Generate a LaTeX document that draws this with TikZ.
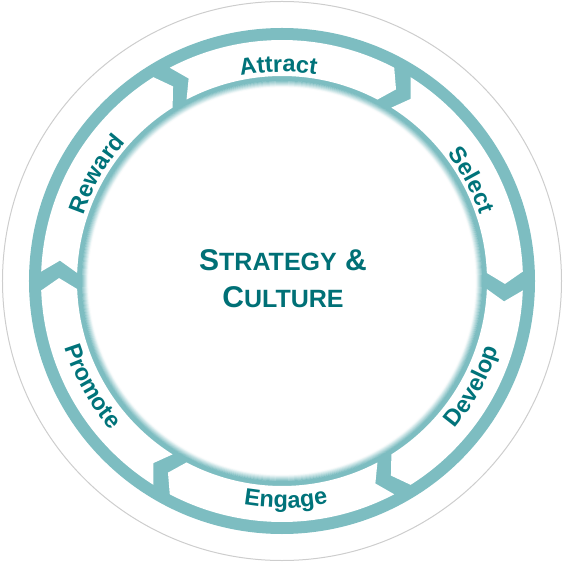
\documentclass[tikz,border=0pt]{standalone}
\usepackage{fontspec}
\setmainfont{Liberation Sans}
\usepackage{tikz}
\usetikzlibrary{decorations.text}
\definecolor{ringteal}{RGB}{125,189,193}
\definecolor{labelteal}{RGB}{0,115,122}
\definecolor{coreteal}{RGB}{0,112,118}
\definecolor{rimgray}{RGB}{205,205,205}
\newcommand{\capword}[2]{{\fontsize{30}{36}\selectfont #1}{\fontsize{25}{30}\selectfont #2}}

\begin{document}
\begin{tikzpicture}[x=1pt, y=1pt,
  ribbon/.style={fill=white},
  ringlabel/.style={decorate, decoration={text along path, text align=center, text color=labelteal,
    text={|\bfseries\fontsize{23.5}{24}\selectfont|#1}}},
  core/.style={text=coreteal, font=\bfseries, anchor=base, inner sep=0pt}]

  \useasboundingbox (-282,-283) rectangle (282,281);

  % Rim and ring

  \draw[rimgray, line width=1pt] (0,0) circle[radius=279.5];
  \fill[ringteal] (0,0) circle[radius=253];

  % Segment 1: Attract

  \fill[ribbon] (117.75:241) arc[start angle=117.75, end angle=62.25, radius=241]
    -- (59.25:223) -- (62.25:205) arc[start angle=62.25, end angle=117.75, radius=205]
    -- (114.75:223) -- cycle;

  % Segment 2: Select

  \fill[ribbon] (57.75:241) arc[start angle=57.75, end angle=2.25, radius=241]
    -- (-0.75:223) -- (2.25:205) arc[start angle=2.25, end angle=57.75, radius=205]
    -- (54.75:223) -- cycle;

  % Segment 3: Develop

  \fill[ribbon] (-2.25:241) arc[start angle=-2.25, end angle=-57.75, radius=241]
    -- (-60.75:223) -- (-57.75:205) arc[start angle=-57.75, end angle=-2.25, radius=205]
    -- (-5.25:223) -- cycle;

  % Segment 4: Engage

  \fill[ribbon] (-62.25:241) arc[start angle=-62.25, end angle=-117.75, radius=241]
    -- (-120.75:223) -- (-117.75:205) arc[start angle=-117.75, end angle=-62.25, radius=205]
    -- (-65.25:223) -- cycle;

  % Segment 5: Promote

  \fill[ribbon] (-122.25:241) arc[start angle=-122.25, end angle=-177.75, radius=241]
    -- (-180.75:223) -- (-177.75:205) arc[start angle=-177.75, end angle=-122.25, radius=205]
    -- (-125.25:223) -- cycle;

  % Segment 6: Reward

  \fill[ribbon] (177.75:241) arc[start angle=177.75, end angle=122.25, radius=241]
    -- (119.25:223) -- (122.25:205) arc[start angle=122.25, end angle=177.75, radius=205]
    -- (174.75:223) -- cycle;

  % Inner disc with soft edge

  \fill[white] (0,0) circle[radius=200];
  \foreach \k [evaluate=\k as \pct using 100-8*\k] in {0,...,12}
    \draw[ringteal!\pct!white, line width=0.7pt] (0,0) circle[radius=200-0.5*\k];

  % Labels on the ring

  \path[ringlabel=Attract] (131:209) arc[start angle=131, end angle=51, radius=209];
  \path[ringlabel=Select] (68:209) arc[start angle=68, end angle=-12, radius=209];
  \path[ringlabel=Reward] (190:209) arc[start angle=190, end angle=110, radius=209];
  \path[ringlabel=Develop] (-69:227) arc[start angle=-69, end angle=11, radius=227];
  \path[ringlabel=Engage] (-129:227) arc[start angle=-129, end angle=-49, radius=227];
  \path[ringlabel=Promote] (-191:227) arc[start angle=-191, end angle=-111, radius=227];

  % Centre

  \node[core] (strategy) at (1,10) {\capword{S}{TRATEGY}{\fontsize{30}{36}\selectfont\ \&}};
  \node[core] (culture) at (1,-27) {\capword{C}{ULTURE}};

\end{tikzpicture}
\end{document}
